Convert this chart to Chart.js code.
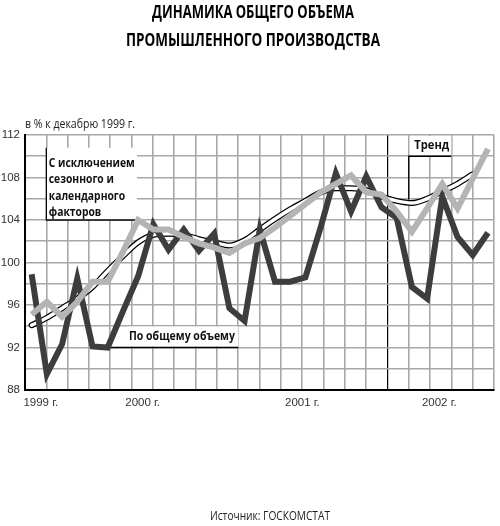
<!DOCTYPE html>
<html><head><meta charset="utf-8">
<script src="https://cdn.jsdelivr.net/npm/chart.js@4.4.1/dist/chart.umd.min.js"></script>
<style>
html,body{margin:0;padding:0;background:#fff;}
#wrap{position:relative;width:500px;height:526px;overflow:hidden;background:#fff;}
canvas{position:absolute;left:0;top:0;}
.t{position:absolute;white-space:nowrap;font-family:'Open Sans','Liberation Sans',sans-serif;}
.t span{display:inline-block;}
.tl{font-weight:bold;font-size:17px;line-height:20px;color:#000;}
#t1{left:253px;top:2px;}
#t2{left:253px;top:30px;}
#sub{left:25px;top:115px;font-size:12px;color:#222;}
#src{left:270px;top:507px;font-size:12px;color:#222;}
</style></head>
<body>
<div id="wrap">
<canvas id="c" width="500" height="526"></canvas>
<div class="t tl" id="t1" data-w="202" data-a="c"><span>ДИНАМИКА ОБЩЕГО ОБЪЕМА</span></div>
<div class="t tl" id="t2" data-w="254" data-a="c"><span>ПРОМЫШЛЕННОГО ПРОИЗВОДСТВА</span></div>
<div class="t" id="sub" data-w="110" data-a="l"><span>в % к декабрю 1999 г.</span></div>
<div class="t" id="src" data-w="120" data-a="c"><span>Источник: ГОСКОМСТАТ</span></div>
</div>
<script>
// Observation index (periods) along the x axis
const periods = [0,1,2,3,4,5,6,7,8,9,10,11,12,13,14,15,16,17,18,19,20,21,22,23,24,25,26,27,28,29,30];
// "По общему объему"
const generalVolume = [98.9,89.5,92.3,98.5,92.1,92.0,95.4,98.7,103.6,101.2,103.1,101.1,102.7,95.7,94.5,103.1,98.2,98.2,98.6,103.3,108.4,104.8,108.1,105.2,104.2,97.7,96.6,106.2,102.4,100.7,102.8];
// "С исключением сезонного и календарного факторов"
const seasonallyAdjusted = [95.1,96.3,94.9,96.3,98.2,98.2,101.0,104.0,103.1,103.1,102.4,101.8,101.4,100.9,101.8,102.3,103.3,104.4,105.5,106.6,107.4,108.2,106.6,106.4,104.8,102.9,105.1,107.4,105.1,107.9,110.7];
// "Тренд"
const trend = [94.1,94.8,95.7,96.6,97.7,99.2,100.6,101.9,102.6,102.7,102.6,102.2,101.9,101.6,102.1,103.1,104.1,105.0,105.8,106.6,107.0,107.0,106.8,106.2,105.8,105.6,106.0,106.7,107.4,108.3,null];
// Year labels and their positions on the period axis
const yearLabels = ['1999 г.','2000 г.','2001 г.','2002 г.'];
const yearPositions = [0.6,7.3,17.8,26.8];
// y-axis tick values
const yTickLabels = [88,92,96,100,104,108,112];

// fit HTML text to the reference widths (condensed look)
document.querySelectorAll('.t').forEach(el=>{
  const sp = el.querySelector('span');
  const w = sp.getBoundingClientRect().width;
  const s = (+el.dataset.w) / w;
  if (el.dataset.a === 'c') {
    el.style.transform = 'translateX(-50%) scaleX(' + s + ')';
    el.style.transformOrigin = '50% 50%';
  } else {
    el.style.transform = 'scaleX(' + s + ')';
    el.style.transformOrigin = '0 50%';
  }
});

const FONT = "'Open Sans','Liberation Sans',sans-serif";
const TICKFONT = "'Liberation Sans',sans-serif";
const X_MIN = -0.437, X_STEP = 1.4016, X_COLS = 22;
const GRID = '#a8a8a8';
const pts = arr => arr.map((v,i)=>({x:periods[i], y:v}));

function condText(ctx, s, x, y, w){
  const m = ctx.measureText(s).width;
  ctx.save(); ctx.translate(x, y); ctx.scale(w/m, 1); ctx.fillText(s, 0, 0); ctx.restore();
}

const annot = {
  id:'annot',
  beforeDatasetsDraw(chart){
    const {ctx, scales:{x,y}} = chart;
    const gx = k => x.getPixelForValue(X_MIN + k*X_STEP);
    ctx.save();
    ctx.font = 'bold 13px ' + FONT;
    ctx.textBaseline = 'middle';
    ctx.strokeStyle = '#000';
    ctx.lineWidth = 1.3;
    // Box 1: seasonally adjusted
    const l1 = gx(1), b1 = y.getPixelForValue(seasonallyAdjusted[7]), t1 = y.getPixelForValue(110.8);
    const r1x = x.getPixelForValue(periods[7]);
    ctx.fillStyle = '#fff';
    ctx.fillRect(l1, t1, 137 - l1, b1 - t1);
    ctx.beginPath(); ctx.moveTo(l1, t1); ctx.lineTo(l1, b1); ctx.lineTo(r1x, b1); ctx.stroke();
    ctx.fillStyle = '#111';
    const lines1 = ['С исключением','сезонного и','календарного','факторов'];
    const ref = ctx.measureText(lines1[0]).width, k1 = 86/ref;
    lines1.forEach((s,i)=>{
      condText(ctx, s, l1 + 2.5, b1 - 57 + i*16.4, ctx.measureText(s).width*k1);
    });
    // Box 2: general volume
    const p2x = x.getPixelForValue(periods[5]), p2y = y.getPixelForValue(generalVolume[5]);
    const r2 = gx(10);
    ctx.fillStyle = '#fff';
    ctx.fillRect(127, p2y - 21, r2 - 127, 20);
    ctx.beginPath(); ctx.moveTo(p2x, p2y); ctx.lineTo(r2, p2y); ctx.stroke();
    ctx.fillStyle = '#111';
    condText(ctx, 'По общему объему', 129, p2y - 11, 106);
    // Box 3: trend
    const l3 = gx(18), r3 = gx(20), t3 = y.getPixelForValue(110), top3 = y.getPixelForValue(112);
    const meta = chart.getDatasetMeta(2).data;
    let by = t3 + 40;
    for (let i=0;i<meta.length-1;i++){
      const a = meta[i], b = meta[i+1];
      if (a && b && !a.skip && !b.skip && a.x <= l3 && b.x >= l3){ by = a.y + (b.y-a.y)*(l3-a.x)/(b.x-a.x) - 3; }
    }
    ctx.fillStyle = '#fff';
    ctx.fillRect(l3 + 1, top3 + 1, r3 - l3 - 1, t3 - top3 - 2);
    ctx.beginPath(); ctx.moveTo(l3, by); ctx.lineTo(l3, t3); ctx.lineTo(r3, t3); ctx.stroke();
    ctx.fillStyle = '#111';
    condText(ctx, 'Тренд', l3 + 5.5, t3 - 11, 35);
    ctx.restore();
  }
};

new Chart(document.getElementById('c'), {
  type:'line',
  data:{datasets:[
    {label:'С исключением сезонного и календарного факторов', data:pts(seasonallyAdjusted), borderColor:'#b4b4b4', borderWidth:6, pointRadius:0, borderJoinStyle:'miter', order:0},
    {label:'По общему объему', data:pts(generalVolume), borderColor:'#3d3d3d', borderWidth:6, pointRadius:0, borderJoinStyle:'miter', order:1},
    {label:'Тренд', data:pts(trend), borderColor:'#ffffff', borderWidth:3.5, pointRadius:0, cubicInterpolationMode:'monotone', borderCapStyle:'round', order:2},
    {label:'Тренд (контур)', data:pts(trend), borderColor:'#000000', borderWidth:6, pointRadius:0, cubicInterpolationMode:'monotone', borderCapStyle:'round', order:3}
  ]},
  options:{
    responsive:false, animation:false, devicePixelRatio:1,
    layout:{padding:{top:135,left:0,right:2,bottom:106}},
    plugins:{legend:{display:false}, tooltip:{enabled:false}},
    scales:{
      x:{type:'linear', min:X_MIN, max:X_MIN + X_COLS*X_STEP,
        afterBuildTicks(s){
          const t=[];
          for(let k=0;k<=X_COLS;k++) t.push({value:X_MIN + k*X_STEP, k});
          yearPositions.forEach((p,j)=>t.push({value:p, lab:yearLabels[j]}));
          t.sort((a,b)=>a.value-b.value);
          s.ticks=t;
        },
        afterFit(s){ s.height = 30; },
        ticks:{autoSkip:false, maxRotation:0, padding:6, color:'#333', font:{family:TICKFONT, size:11.5},
          callback(v,i,ts){ return ts[i] && ts[i].lab ? ts[i].lab : ''; }},
        grid:{drawTicks:false,
          color:c => (c.tick && c.tick.lab) ? 'rgba(0,0,0,0)' : (c.tick && c.tick.k===17 ? '#000' : GRID),
          lineWidth:c => (c.tick && c.tick.k===17) ? 1.2 : 1.6},
        border:{color:'#000', width:2}
      },
      y:{min:88, max:112,
        afterFit(s){ s.width = 25; },
        ticks:{stepSize:2, padding:5, color:'#333', font:{family:TICKFONT, size:11.5},
          callback:v => yTickLabels.includes(v) ? String(v) : ''},
        grid:{drawTicks:false, color:GRID, lineWidth:1.6},
        border:{color:'#000', width:2}
      }
    }
  },
  plugins:[annot]
});
</script>
</body></html>
